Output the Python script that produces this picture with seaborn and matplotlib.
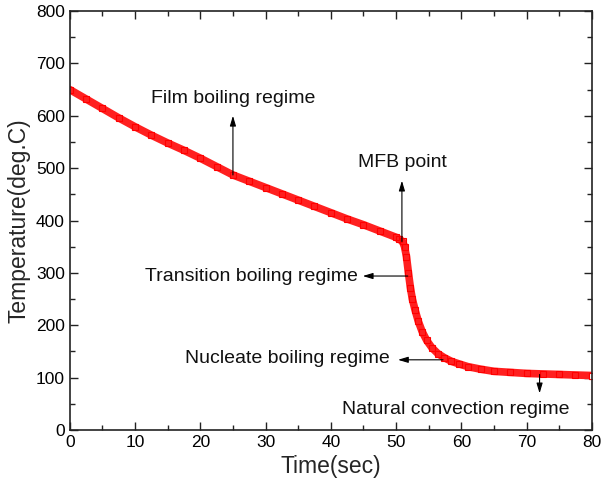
# Curva de enfriamiento: temperatura vs tiempo con los regímenes de ebullición

# -------------------------- Librerias necesarias -------------------------------------
import pandas as pd
import numpy as np
import matplotlib
matplotlib.use('Agg')
import matplotlib.pyplot as plt
from matplotlib.ticker import MultipleLocator
import seaborn as sns

# -------------------------- Datos ------------------------------------------------------
tiempo = [0, 2.5, 5, 7.5, 10, 12.5, 15, 17.5, 20, 22.5, 25, 27.5, 30, 32.5, 35,
          37.5, 40, 42.5, 45, 47.5, 50, 50.5, 51, 51.3, 51.6, 51.9, 52.2, 52.5,
          52.9, 53.4, 54.0, 54.7, 55.5, 56.4, 57.4, 58.5, 59.7, 61, 63, 65, 67.5,
          70, 72.5, 75, 77.5, 80]
temperatura = [650, 632, 614, 596, 579, 563, 548, 534, 519, 503, 487, 475, 463,
               451, 439, 427, 415, 403, 392, 380, 368, 364, 360, 350, 331, 300,
               272, 250, 230, 208, 188, 171, 157, 146, 138, 131, 126, 121, 116,
               112, 110, 108, 107, 106, 105, 104]

# Anotaciones: texto, posición del texto, cola y punta de la flecha (datos)
etiquetas = ['Film boiling regime', 'MFB point', 'Transition boiling regime',
             'Nucleate boiling regime', 'Natural convection regime']
pos_texto = [(25.0, 633), (51.0, 511), (27.8, 294), (33.4, 137), (59.2, 40)]
cola_flecha = [(25.0, 487), (50.9, 360), (51.8, 294), (57.2, 134), (72.0, 106)]
punta_flecha = [(25.0, 600), (50.9, 476), (44.9, 294), (50.3, 134), (72.0, 70)]

df = pd.DataFrame({'Tiempo': tiempo, 'Temperatura': temperatura})

# -------------------------- Gráfica -----------------------------------
sns.set_style('ticks')
plt.rcParams['font.family'] = ['Liberation Sans', 'DejaVu Sans']

fig = plt.figure(figsize=(6.02, 4.94), dpi=100)
ax = fig.add_axes([0.116, 0.1296, 0.867, 0.848])

sns.lineplot(data=df, x='Tiempo', y='Temperatura', ax=ax, color='#ff2020',
             linewidth=5.5, marker='s', markersize=5, markerfacecolor='none',
             markeredgecolor='#ff0000', markeredgewidth=0.8)

# Último punto con cuadro blanco
ax.plot(tiempo[-1:], temperatura[-1:], marker='s', markersize=5,
        markerfacecolor='white', markeredgecolor='#ff0000', markeredgewidth=0.8,
        linestyle='none')

for texto, pt, cola, punta in zip(etiquetas, pos_texto, cola_flecha, punta_flecha):
    ax.annotate('', xy=punta, xytext=cola,
                arrowprops=dict(arrowstyle='-|>,head_length=0.6,head_width=0.18',
                                color='black', lw=0.8, shrinkA=0, shrinkB=0))
    ax.text(pt[0], pt[1], texto, fontsize=14, ha='center', va='center',
            color='#111111')

ax.set_xlim(0, 80)
ax.set_ylim(0, 800)
ax.xaxis.set_major_locator(MultipleLocator(10))
ax.xaxis.set_minor_locator(MultipleLocator(5))
ax.yaxis.set_major_locator(MultipleLocator(100))
ax.yaxis.set_minor_locator(MultipleLocator(50))
ax.tick_params(which='both', direction='in', top=True, right=True,
               labelsize=12.5, width=1, colors='#222222', labelcolor='black')
ax.tick_params(which='major', length=6)
ax.tick_params(which='minor', length=3.5)
for s in ax.spines.values():
    s.set_linewidth(1.2)
    s.set_color('#222222')

ax.set_xlabel('Time(sec)', fontsize=16.5, labelpad=4)
ax.set_ylabel('Temperature(deg.C)', fontsize=16.5, labelpad=4)

fig.savefig('out.png', dpi=100)
